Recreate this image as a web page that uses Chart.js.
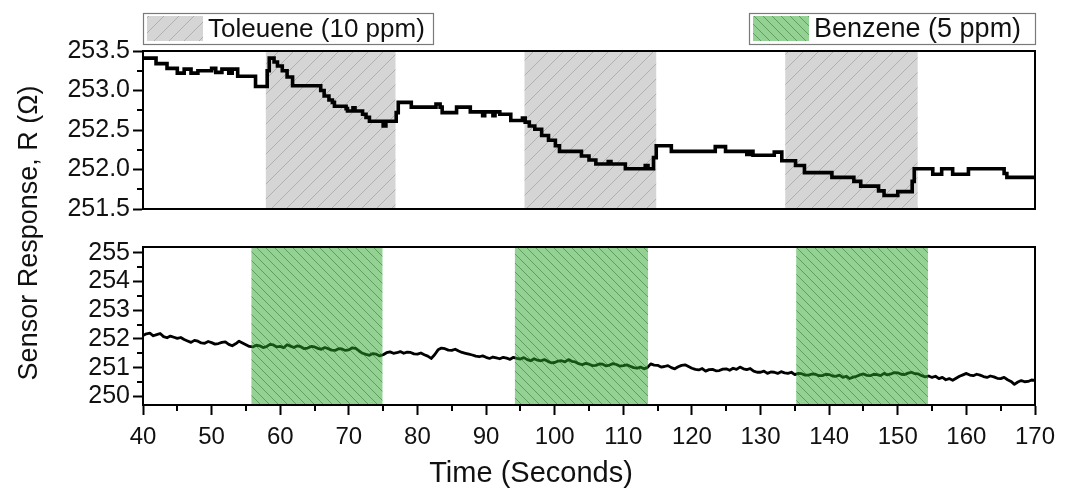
<!DOCTYPE html>
<html>
<head>
<meta charset="utf-8">
<script src="https://cdn.jsdelivr.net/npm/chart.js@4/dist/chart.umd.min.js"></script>
<style>
  html, body { margin: 0; padding: 0; background: #fff; }
  #wrap { position: relative; width: 1067px; height: 493px; }
  canvas { position: absolute; left: 0; top: 0; }
</style>
</head>
<body>
<div id="wrap">
  <canvas id="top" width="1067" height="493"></canvas>
  <canvas id="bot" width="1067" height="493"></canvas>
</div>
<script>
// ---------- DATA ----------
const legendLabels = ['Toleuene (10 ppm)', 'Benzene (5 ppm)'];
const xTitle = 'Time (Seconds)';
const yTitle = 'Sensor Response, R (\u03A9)';

// Toluene exposure windows (top panel), seconds
const tolStart = [57.9, 95.6, 133.6];
const tolEnd   = [76.8, 114.8, 152.9];
// Benzene exposure windows (bottom panel), seconds
const benStart = [55.8, 94.2, 135.2];
const benEnd   = [74.9, 113.6, 154.4];

// Top panel (toluene) step response: level start time, resistance
const topTime = [39.9, 41.9, 43.5, 45.0, 46.0, 47.0, 48.0, 50.0, 50.6, 51.5, 52.5, 53.0, 53.8, 56.4,
  58.1, 58.4, 59.1, 59.6, 60.3, 61.0, 61.8, 65.9, 66.4, 67.1, 67.6, 67.9, 69.6, 69.8, 70.6, 70.9,
  72.0, 72.5, 73.0, 75.0, 75.4, 76.9, 77.2, 79.1, 82.7, 83.3, 83.6, 85.7, 87.7, 89.5, 89.8, 91.0,
  91.3, 92.0, 93.6, 95.3, 95.7, 96.3, 97.1, 98.1, 99.1, 100.1, 100.7, 103.9, 105.0, 106.0, 107.8,
  108.2, 110.3, 113.2, 113.6, 114.4, 114.8, 117.0, 123.4, 124.9, 128.0, 128.5, 128.9, 132.0, 133.1,
  135.1, 136.4, 140.4, 143.6, 144.6, 147.2, 148.0, 150.0, 152.1, 152.4, 155.1, 156.4, 158.0, 160.3,
  165.5, 165.9, 170.0];
const topR = [253.41, 253.34, 253.28, 253.22, 253.27, 253.22, 253.25, 253.28, 253.23, 253.27, 253.22, 253.27, 253.18, 253.05,
  253.25, 253.41, 253.36, 253.31, 253.25, 253.17, 253.06, 253.00, 252.93, 252.88, 252.85, 252.80, 252.77, 252.74, 252.78, 252.74,
  252.70, 252.66, 252.61, 252.55, 252.61, 252.72, 252.85, 252.79, 252.83, 252.79, 252.72, 252.79, 252.73, 252.68, 252.73, 252.68,
  252.73, 252.70, 252.62, 252.65, 252.60, 252.55, 252.51, 252.43, 252.37, 252.30, 252.23, 252.17, 252.12, 252.07, 252.10,
  252.07, 252.01, 252.05, 252.01, 252.15, 252.30, 252.23, 252.29, 252.23, 252.19, 252.23, 252.18, 252.22, 252.11,
  252.05, 251.96, 251.90, 251.85, 251.79, 251.73, 251.67, 251.72, 251.85, 252.01, 251.94, 252.01, 251.94, 252.01,
  251.95, 251.90, 251.90];

// Bottom panel (benzene) response, sampled every half second
const botTime = [40, 40.5, 41, 41.5, 42, 42.5, 43, 43.5, 44, 44.5, 45, 45.5, 46, 46.5, 47, 47.5, 48, 48.5, 49, 49.5,
  50, 50.5, 51, 51.5, 52, 52.5, 53, 53.5, 54, 54.5, 55, 55.5, 56, 56.5, 57, 57.5, 58, 58.5, 59, 59.5,
  60, 60.5, 61, 61.5, 62, 62.5, 63, 63.5, 64, 64.5, 65, 65.5, 66, 66.5, 67, 67.5, 68, 68.5, 69, 69.5,
  70, 70.5, 71, 71.5, 72, 72.5, 73, 73.5, 74, 74.5, 75, 75.5, 76, 76.5, 77, 77.5, 78, 78.5, 79, 79.5,
  80, 80.5, 81, 81.5, 82, 82.5, 83, 83.5, 84, 84.5, 85, 85.5, 86, 86.5, 87, 87.5, 88, 88.5, 89, 89.5,
  90, 90.5, 91, 91.5, 92, 92.5, 93, 93.5, 94, 94.5, 95, 95.5, 96, 96.5, 97, 97.5, 98, 98.5, 99, 99.5,
  100, 100.5, 101, 101.5, 102, 102.5, 103, 103.5, 104, 104.5, 105, 105.5, 106, 106.5, 107, 107.5, 108, 108.5, 109, 109.5,
  110, 110.5, 111, 111.5, 112, 112.5, 113, 113.5, 114, 114.5, 115, 115.5, 116, 116.5, 117, 117.5, 118, 118.5, 119, 119.5,
  120, 120.5, 121, 121.5, 122, 122.5, 123, 123.5, 124, 124.5, 125, 125.5, 126, 126.5, 127, 127.5, 128, 128.5, 129, 129.5,
  130, 130.5, 131, 131.5, 132, 132.5, 133, 133.5, 134, 134.5, 135, 135.5, 136, 136.5, 137, 137.5, 138, 138.5, 139, 139.5,
  140, 140.5, 141, 141.5, 142, 142.5, 143, 143.5, 144, 144.5, 145, 145.5, 146, 146.5, 147, 147.5, 148, 148.5, 149, 149.5,
  150, 150.5, 151, 151.5, 152, 152.5, 153, 153.5, 154, 154.5, 155, 155.5, 156, 156.5, 157, 157.5, 158, 158.5, 159, 159.5,
  160, 160.5, 161, 161.5, 162, 162.5, 163, 163.5, 164, 164.5, 165, 165.5, 166, 166.5, 167, 167.5, 168, 168.5, 169, 169.5,
  170];
const botR = [252.12, 252.18, 252.20, 252.11, 252.15, 252.19, 252.08, 252.04, 252.10, 252.06, 252.02, 252.05, 251.98, 251.93, 251.88, 251.95, 251.92, 251.86, 251.85, 251.91,
  251.87, 251.82, 251.84, 251.88, 251.90, 251.81, 251.76, 251.83, 251.92, 251.86, 251.80, 251.74, 251.72, 251.78, 251.76, 251.70, 251.73, 251.81, 251.79, 251.72,
  251.74, 251.69, 251.80, 251.75, 251.70, 251.76, 251.73, 251.66, 251.68, 251.74, 251.72, 251.67, 251.64, 251.70, 251.66, 251.61, 251.60, 251.66, 251.65, 251.60,
  251.62, 251.69, 251.67, 251.58, 251.50, 251.46, 251.43, 251.49, 251.47, 251.41, 251.45, 251.52, 251.55, 251.50, 251.52, 251.56, 251.50, 251.54, 251.53, 251.48,
  251.47, 251.51, 251.45, 251.40, 251.32, 251.45, 251.62, 251.68, 251.66, 251.61, 251.60, 251.64, 251.58, 251.53, 251.50, 251.47, 251.44, 251.40, 251.38, 251.41,
  251.36, 251.32, 251.37, 251.34, 251.31, 251.36, 251.33, 251.29, 251.36, 251.32, 251.30, 251.35, 251.28, 251.24, 251.31, 251.26, 251.24, 251.28, 251.22, 251.17,
  251.18, 251.23, 251.24, 251.20, 251.28, 251.22, 251.20, 251.14, 251.10, 251.15, 251.12, 251.07, 251.08, 251.13, 251.12, 251.06, 251.09, 251.14, 251.11, 251.05,
  251.07, 251.10, 251.05, 251.00, 250.98, 251.02, 250.96, 251.00, 251.13, 251.09, 251.08, 251.02, 251.04, 251.07, 251.00, 250.96, 251.03, 251.08, 251.10, 251.04,
  250.98, 250.94, 250.92, 250.97, 250.88, 250.93, 250.94, 250.89, 250.90, 250.95, 250.96, 250.91, 250.98, 250.94, 251.02, 250.96, 250.93, 250.97, 250.88, 250.84,
  250.84, 250.88, 250.80, 250.85, 250.84, 250.80, 250.86, 250.82, 250.80, 250.84, 250.76, 250.80, 250.79, 250.74, 250.74, 250.78, 250.77, 250.72, 250.72, 250.77,
  250.76, 250.71, 250.70, 250.74, 250.66, 250.70, 250.62, 250.67, 250.70, 250.75, 250.78, 250.73, 250.72, 250.77, 250.76, 250.72, 250.80, 250.75, 250.78, 250.83,
  250.82, 250.77, 250.76, 250.81, 250.84, 250.79, 250.78, 250.72, 250.68, 250.71, 250.66, 250.70, 250.62, 250.66, 250.58, 250.62, 250.56, 250.63, 250.70, 250.75,
  250.80, 250.74, 250.72, 250.77, 250.74, 250.69, 250.66, 250.71, 250.68, 250.63, 250.62, 250.66, 250.58, 250.52, 250.42, 250.50, 250.55, 250.51, 250.52, 250.57,
  250.56];

// ---------- STYLE HELPERS ----------
const FONT = "'Liberation Sans', Arial, sans-serif";

function hatch(bg, line, size, dir, lw) {
  const c = document.createElement('canvas');
  c.width = size; c.height = size;
  const g = c.getContext('2d');
  g.fillStyle = bg; g.fillRect(0, 0, size, size);
  g.strokeStyle = line; g.lineWidth = lw;
  g.beginPath();
  for (const k of [-size, 0, size]) {
    if (dir === '/') { g.moveTo(k, size); g.lineTo(k + size, 0); }
    else { g.moveTo(k, 0); g.lineTo(k + size, size); }
  }
  g.stroke();
  return c;
}
const grayTile = hatch('#d5d5d5', '#b0b0b0', 15, '/', 1);
const greenTile = hatch('rgba(40,165,40,0.5)', 'rgba(30,90,30,0.45)', 9, '\\', 1);

function drawMinorTicks(chart, id, len) {
  const s = chart.scales[id], ctx = chart.ctx, ca = chart.chartArea;
  const vals = s.ticks.map(t => t.value);
  const step = vals[1] - vals[0];
  const minors = [vals[0] - step / 2].concat(vals.map(v => v + step / 2)).filter(v => v >= s.min && v <= s.max);
  ctx.save();
  ctx.strokeStyle = '#000'; ctx.lineWidth = 2;
  ctx.beginPath();
  for (const m of minors) {
    const p = Math.round(s.getPixelForValue(m));
    if (s.isHorizontal()) { ctx.moveTo(p, ca.bottom); ctx.lineTo(p, ca.bottom + len); }
    else { ctx.moveTo(ca.left - len, p); ctx.lineTo(ca.left, p); }
  }
  ctx.stroke();
  ctx.restore();
}

function drawRegions(chart, starts, ends, tile) {
  const ctx = chart.ctx, ca = chart.chartArea, xs = chart.scales.x;
  const pat = ctx.createPattern(tile, 'repeat');
  ctx.save();
  ctx.fillStyle = pat;
  for (let i = 0; i < starts.length; i++) {
    const a = xs.getPixelForValue(starts[i]), b = xs.getPixelForValue(ends[i]);
    ctx.fillRect(a, ca.top, b - a, ca.bottom - ca.top);
  }
  ctx.restore();
}

function frame(chart) {
  const ctx = chart.ctx, ca = chart.chartArea;
  ctx.save();
  ctx.strokeStyle = '#000'; ctx.lineWidth = 2;
  ctx.strokeRect(ca.left, ca.top, ca.right - ca.left, ca.bottom - ca.top);
  ctx.restore();
}

function legendBox(ctx, x, y, w, h, tile, label, size) {
  ctx.save();
  ctx.fillStyle = '#fff';
  ctx.fillRect(x, y, w, h);
  ctx.strokeStyle = '#7a7a7a'; ctx.lineWidth = 1.2;
  ctx.strokeRect(x + 0.5, y + 0.5, w, h);
  ctx.fillStyle = ctx.createPattern(tile, 'repeat');
  ctx.fillRect(x + 4, y + 3, 56, h - 6);
  ctx.fillStyle = '#111';
  ctx.font = size + 'px ' + FONT;
  ctx.textBaseline = 'middle';
  ctx.fillText(label, x + 65, y + h / 2 + 1);
  ctx.restore();
}

const axisBase = {
  border: { display: true, color: '#000', width: 2 },
  grid: { display: true, drawOnChartArea: false, drawTicks: true, tickLength: 10, tickWidth: 2, tickColor: '#000', color: '#000' },
};

// ---------- TOP CHART ----------
new Chart(document.getElementById('top'), {
  type: 'line',
  data: {
    datasets: [{
      data: topTime.map((t, i) => ({ x: t, y: topR[i] })),
      borderColor: '#000', borderWidth: 3.6, pointRadius: 0, stepped: 'before',
      borderJoinStyle: 'miter', fill: false
    }]
  },
  options: {
    responsive: false, devicePixelRatio: 1, animation: false,
    layout: { padding: { top: 51, bottom: 284, left: 0, right: 32 } },
    plugins: { legend: { display: false }, tooltip: { enabled: false } },
    scales: {
      x: {
        type: 'linear', min: 40, max: 170,
        ticks: { display: false, stepSize: 10 },
        grid: { display: false },
        border: { display: true, color: '#000', width: 2 },
        afterFit: s => { s.height = 0; }
      },
      y: Object.assign({}, axisBase, {
        min: 251.5, max: 253.5,
        ticks: { stepSize: 0.5, autoSkip: false, color: '#111', padding: 3, font: { family: FONT, size: 25 },
                 callback: v => v.toFixed(1) },
        afterFit: s => { s.width = 143; }
      })
    }
  },
  plugins: [{
    id: 'topDecor',
    beforeDatasetsDraw(chart) { drawRegions(chart, tolStart, tolEnd, grayTile); },
    afterDraw(chart) {
      frame(chart);
      drawMinorTicks(chart, 'y', 6);
      legendBox(chart.ctx, 143, 13, 290, 31, grayTile, legendLabels[0], 26);
      legendBox(chart.ctx, 749, 13, 286, 31, greenTile, legendLabels[1], 27);
    }
  }]
});

// ---------- BOTTOM CHART ----------
new Chart(document.getElementById('bot'), {
  type: 'line',
  data: {
    datasets: [{
      data: botTime.map((t, i) => ({ x: t, y: botR[i] })),
      borderColor: '#000', borderWidth: 2.8, pointRadius: 0, tension: 0,
      borderJoinStyle: 'round', fill: false
    }]
  },
  options: {
    responsive: false, devicePixelRatio: 1, animation: false,
    layout: { padding: { top: 247, bottom: 0, left: 0, right: 32 } },
    plugins: { legend: { display: false }, tooltip: { enabled: false } },
    scales: {
      x: Object.assign({}, axisBase, {
        type: 'linear', min: 40, max: 170,
        ticks: { stepSize: 10, autoSkip: false, color: '#111', padding: 8, maxRotation: 0, font: { family: FONT, size: 24 } },
        afterFit: s => { s.height = 88; }
      }),
      y: Object.assign({}, axisBase, {
        min: 249.7, max: 255.2,
        ticks: { stepSize: 1, autoSkip: false, includeBounds: false, color: '#111', padding: 3, font: { family: FONT, size: 25 } },
        afterFit: s => { s.width = 143; }
      })
    }
  },
  plugins: [{
    id: 'botDecor',
    afterDatasetsDraw(chart) { drawRegions(chart, benStart, benEnd, greenTile); },
    afterDraw(chart) {
      frame(chart);
      drawMinorTicks(chart, 'y', 6);
      drawMinorTicks(chart, 'x', 6);
      const ctx = chart.ctx;
      ctx.save();
      ctx.fillStyle = '#111';
      ctx.textAlign = 'center'; ctx.textBaseline = 'middle';
      ctx.font = '29px ' + FONT;
      ctx.fillText(xTitle, 531, 474);
      ctx.translate(30, 233);
      ctx.rotate(-Math.PI / 2);
      ctx.font = '27px ' + FONT;
      ctx.fillText(yTitle, 0, 0);
      ctx.restore();
    }
  }]
});
</script>
</body>
</html>
